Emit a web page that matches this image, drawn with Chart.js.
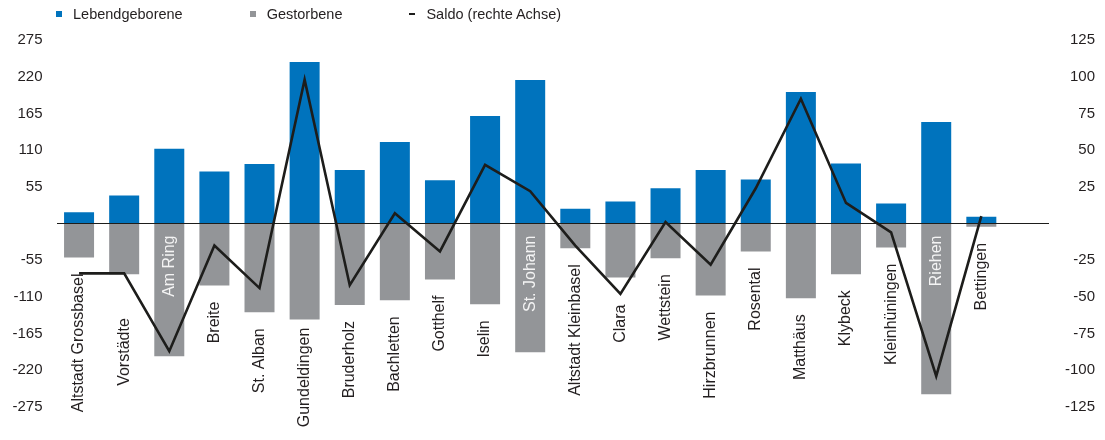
<!DOCTYPE html>
<html lang="de">
<head>
<meta charset="utf-8">
<title>Geburten und Todesfälle nach Wohnviertel</title>
<script src="https://cdn.jsdelivr.net/npm/chart.js@4.4.1/dist/chart.umd.min.js"></script>
<style>
  body { margin: 0; background: #fff; }
  #wrap { position: relative; width: 1105px; height: 440px; }
  #legend {
    position: absolute; top: 5px; left: 56px;
    display: flex; gap: 67px;
    font: 14.5px 'Liberation Sans', Arial, sans-serif; color: #231f20; line-height: 18px;
  }
  #legend .item { display: flex; align-items: center; }
  #legend .mark { margin-right: 11px; }
</style>
</head>
<body>
<div id="wrap">
  <div id="legend"></div>
  <canvas id="chart" width="1105" height="440"></canvas>
</div>
<script>
const quartiere = ['Altstadt Grossbasel', 'Vorstädte', 'Am Ring', 'Breite', 'St. Alban', 'Gundeldingen',
  'Bruderholz', 'Bachletten', 'Gotthelf', 'Iselin', 'St. Johann', 'Altstadt Kleinbasel', 'Clara',
  'Wettstein', 'Hirzbrunnen', 'Rosental', 'Matthäus', 'Klybeck', 'Kleinhüningen', 'Riehen', 'Bettingen'];
const lebendgeborene = [17, 42, 112, 78, 89, 242, 80, 122, 65, 161, 215, 22, 33, 53, 80, 66, 197, 90, 30, 152, 10];
const gestorbene = [-51, -76, -199, -93, -133, -144, -122, -115, -84, -121, -193, -37, -81, -52, -108, -42, -112, -76, -36, -256, -5];
const saldo = [-34, -34, -87, -15, -44, 98, -42, 7, -19, 40, 22, -15, -48, 1, -28, 24, 85, 14, -6, -104, 5];

const linksTicks = { min: -275, max: 275, step: 55 };
const rechtsTicks = { min: -125, max: 125, step: 25 };

const blau = '#0073bd';
const grau = '#939598';
const schwarz = '#1d1d1b';
const schrift = "'Liberation Sans', Arial, sans-serif";

// Quartiernamen senkrecht unter den Balken, bei langen Balken weiss im Balken
const quartierLabels = {
  id: 'quartierLabels',
  afterDatasetsDraw(chart, args, opts) {
    const { ctx, scales: { x, y } } = chart;
    const zero = y.getPixelForValue(0);
    ctx.save();
    ctx.font = opts.font;
    ctx.textBaseline = 'middle';
    ctx.textAlign = 'right';
    quartiere.forEach((name, i) => {
      const px = x.getPixelForValue(i);
      let top, color;
      if (opts.inside.includes(name)) {
        top = zero + opts.insideGap;
        color = opts.insideColor;
      } else {
        top = y.getPixelForValue(gestorbene[i]) + opts.gap + (opts.nudge[name] || 0);
        color = opts.color;
      }
      ctx.save();
      ctx.translate(px, top);
      ctx.rotate(-Math.PI / 2);
      ctx.fillStyle = color;
      ctx.fillText(name, 0, 0);
      ctx.restore();
    });
    ctx.restore();
  }
};

const hideZero = v => (v === 0 ? '' : v);

const chart = new Chart(document.getElementById('chart'), {
  data: {
    // leere Kategorie am Schluss verlängert die Nulllinie bis zur rechten Achse
    labels: [...quartiere, ''],
    datasets: [
      {
        type: 'bar',
        label: 'Lebendgeborene',
        data: lebendgeborene,
        backgroundColor: blau,
        grouped: false,
        barPercentage: 0.665,
        categoryPercentage: 1,
        order: 1
      },
      {
        type: 'bar',
        label: 'Gestorbene',
        data: gestorbene,
        backgroundColor: grau,
        grouped: false,
        barPercentage: 0.665,
        categoryPercentage: 1,
        order: 1
      },
      {
        type: 'line',
        label: 'Saldo (rechte Achse)',
        data: saldo,
        yAxisID: 'y2',
        borderColor: schwarz,
        borderWidth: 2.6,
        pointRadius: 0,
        tension: 0,
        order: 0
      }
    ]
  },
  options: {
    responsive: false,
    animation: false,
    layout: { padding: { top: 40, right: 10, bottom: 33, left: 0 } },
    plugins: {
      legend: { display: false },
      tooltip: { enabled: false },
      quartierLabels: {
        font: '16px ' + schrift,
        color: '#231f20',
        insideColor: '#f4f4f4',
        gap: 16,
        insideGap: 12,
        inside: ['Am Ring', 'St. Johann', 'Riehen'],
        nudge: { 'Vorstädte': 28, 'Clara': 11, 'Gundeldingen': -8 }
      }
    },
    scales: {
      x: { display: false },
      y: {
        min: linksTicks.min,
        max: linksTicks.max,
        afterFit: s => { s.width = 56.5; },
        ticks: { stepSize: linksTicks.step, padding: 14, color: '#231f20', font: { family: schrift, size: 15 }, callback: hideZero },
        grid: { color: c => (c.tick && c.tick.value === 0 ? schwarz : 'transparent'), drawTicks: false },
        border: { display: false }
      },
      y2: {
        position: 'right',
        min: rechtsTicks.min,
        max: rechtsTicks.max,
        afterFit: s => { s.width = 46; },
        ticks: { stepSize: rechtsTicks.step, padding: 17, crossAlign: 'far', color: '#231f20', font: { family: schrift, size: 15 }, callback: hideZero },
        grid: { display: false },
        border: { display: false }
      }
    }
  },
  plugins: [quartierLabels]
});

// Legende als HTML über dem Diagramm
const legend = document.getElementById('legend');
chart.data.datasets.forEach(ds => {
  const item = document.createElement('span');
  item.className = 'item';
  const mark = document.createElement('span');
  mark.className = 'mark';
  if (ds.type === 'line') {
    mark.style.cssText = `width:6px;height:2.5px;background:${ds.borderColor}`;
  } else {
    mark.style.cssText = `width:6px;height:6px;background:${ds.backgroundColor}`;
  }
  item.appendChild(mark);
  item.appendChild(document.createTextNode(ds.label));
  legend.appendChild(item);
});
</script>
</body>
</html>
